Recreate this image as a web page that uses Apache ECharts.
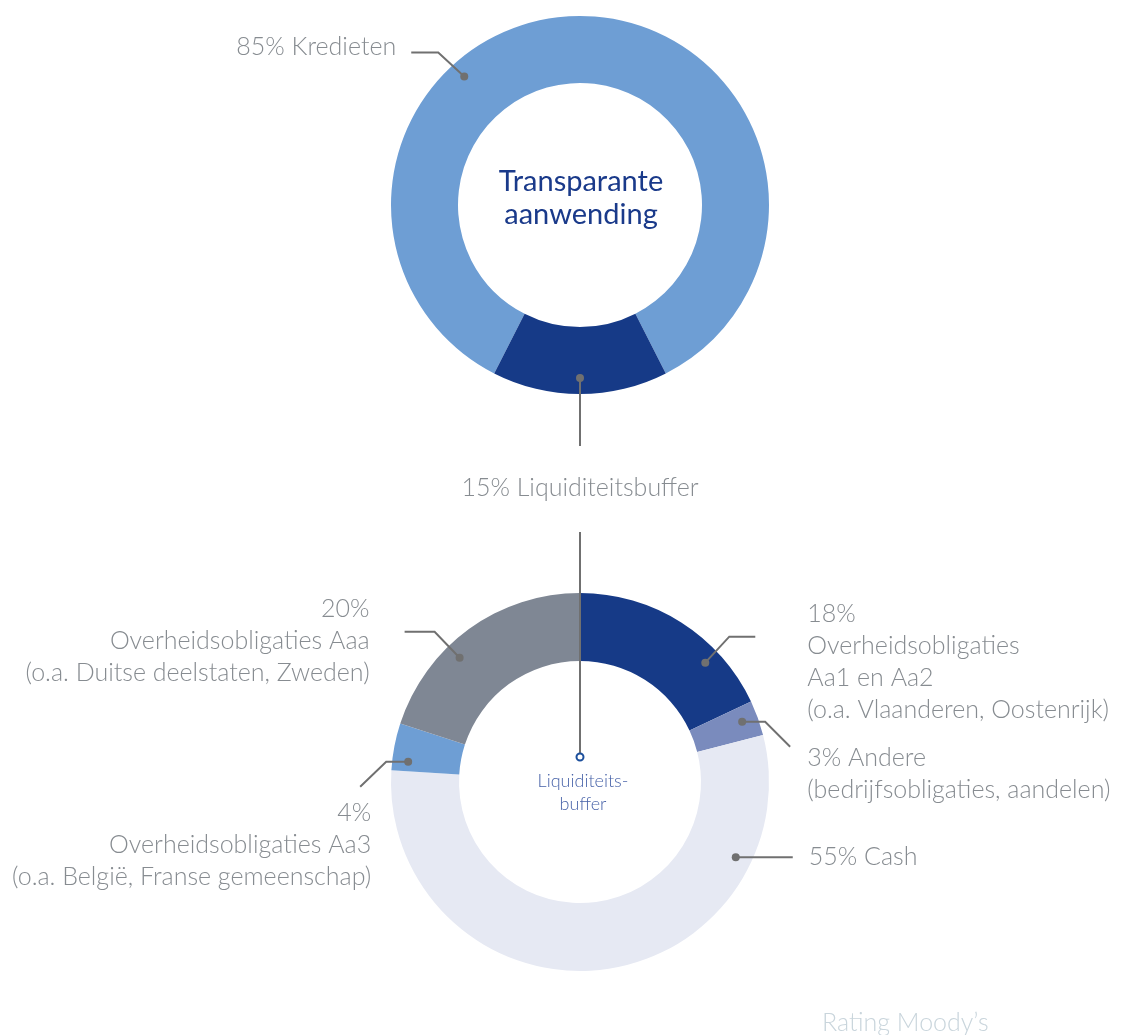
<!DOCTYPE html>
<html>
<head>
<meta charset="utf-8">
<script src="https://cdn.jsdelivr.net/npm/echarts@6/dist/echarts.min.js"></script>
<style>
  html, body { margin: 0; padding: 0; background: #fff; }
  #chart { width: 1124px; height: 1035px; }
</style>
</head>
<body>
<div id="chart"></div>
<script>
// top ring: use of funds
var topNames = ['Kredieten', 'Liquiditeitsbuffer'];
var topValues = [85, 15];
var topColors = ['#6e9ed4', '#163a87'];

// bottom ring: breakdown of the liquidity buffer
var bottomNames = ['Aa1 en Aa2', 'Andere', 'Cash', 'Aa3', 'Aaa'];
var bottomValues = [18, 3, 55, 4, 20];
var bottomColors = ['#163a87', '#7a8bbd', '#e6e9f3', '#6e9ed4', '#7f8794'];
var bottomLines = [
  ['Overheidsobligaties', 'Aa1 en Aa2', '(o.a. Vlaanderen, Oostenrijk)'],
  ['Andere', '(bedrijfsobligaties, aandelen)'],
  ['Cash'],
  ['Overheidsobligaties Aa3', '(o.a. België, Franse gemeenschap)'],
  ['Overheidsobligaties Aaa', '(o.a. Duitse deelstaten, Zweden)']
];

var FONT = '"Lato Light", Lato, "Open Sans", sans-serif';
var FONT_R = 'Lato, "Open Sans", sans-serif';
var LINE = '#707070';
var TXT = '#878c91';

var topPie = { center: [580, 205], r0: 122, r: 189 };
var botPie = { center: [580, 782], r0: 121, r: 189 };

// leader layout: angle of the dot, bends relative to the dot, text offset from line end
var topLayout = [
  { angle: 132, pts: [[-26, -24], [-53, -24]], txt: [-15, -5], align: 'right', first: true },
  { angle: 270, pts: [[0, 68]], txt: [0, 42], align: 'center', first: true }
];
var botLayout = [
  { angle: 43.6, pts: [[24, -26], [50, -26]], txt: [52, -23], align: 'left' },
  { angle: 20.4, pts: [[23, 0], [48, 25]], txt: [17, 11], align: 'left', first: true },
  { angle: -25.8, pts: [[57, 0]], txt: [16, 0], align: 'left', first: true },
  { angle: 173.3, pts: [[-22, 0], [-48, 25]], txt: [11, 26], align: 'right' },
  { angle: 134.1, pts: [[-25, -26], [-55, -26]], txt: [-35, -23], align: 'right' }
];

function labelText(value, lines, first) {
  if (first) {
    var l = lines.slice();
    l[0] = value + '% ' + l[0];
    return l.join('\n');
  }
  return [value + '%'].concat(lines).join('\n');
}

function annotations(pie, values, layout, texts) {
  var out = [];
  layout.forEach(function (lay, i) {
    var a = lay.angle * Math.PI / 180;
    var rd = 173;
    var dx = pie.center[0] + rd * Math.cos(a);
    var dy = pie.center[1] - rd * Math.sin(a);
    var pts = [[dx, dy]].concat(lay.pts.map(function (p) { return [dx + p[0], dy + p[1]]; }));
    var end = pts[pts.length - 1];
    out.push({
      type: 'polyline', z: 10,
      shape: { points: pts },
      style: { stroke: LINE, lineWidth: 2, fill: null }
    });
    out.push({
      type: 'circle', z: 11,
      shape: { cx: dx, cy: dy, r: 4 },
      style: { fill: LINE }
    });
    out.push({
      type: 'text', z: 12,
      x: end[0] + lay.txt[0],
      y: end[1] + lay.txt[1] - 16,
      style: {
        text: texts[i], fill: TXT, fontFamily: FONT, fontWeight: 300, fontSize: 25,
        lineHeight: 32, align: lay.align, verticalAlign: 'top'
      }
    });
  });
  return out;
}

var topTexts = topNames.map(function (n, i) { return labelText(topValues[i], [n], true); });
var botTexts = bottomLines.map(function (l, i) { return labelText(bottomValues[i], l, botLayout[i].first); });

var graphics = []
  .concat(annotations(topPie, topValues, topLayout, topTexts))
  .concat(annotations(botPie, bottomValues, botLayout, botTexts));

// connector between the two rings
graphics.push({
  type: 'line', z: 10,
  shape: { x1: 580, y1: 532, x2: 580, y2: 753 },
  style: { stroke: LINE, lineWidth: 2 }
});
graphics.push({
  type: 'circle', z: 11,
  shape: { cx: 580, cy: 757, r: 3.5 },
  style: { fill: '#fff', stroke: '#1c4f9c', lineWidth: 2 }
});
graphics.push({
  type: 'text', z: 12, x: 581, y: 165,
  style: {
    text: 'Transparante\naanwending', fill: '#1a3a8a', fontFamily: FONT_R, fontWeight: 400,
    fontSize: 29, lineHeight: 33, align: 'center', verticalAlign: 'top'
  }
});
graphics.push({
  type: 'text', z: 12, x: 583, y: 770,
  style: {
    text: 'Liquiditeits-\nbuffer', fill: '#4762a8', fontFamily: FONT, fontWeight: 300,
    fontSize: 18, lineHeight: 23, align: 'center', verticalAlign: 'top'
  }
});
graphics.push({
  type: 'text', z: 12, x: 822, y: 1010,
  style: {
    text: 'Rating Moody\u2019s', fill: '#c9d5dc', fontFamily: FONT, fontWeight: 300,
    fontSize: 25, align: 'left', verticalAlign: 'top'
  }
});

var myChart = echarts.init(document.getElementById('chart'));
myChart.setOption({
  animation: false,
  series: [
    {
      type: 'pie',
      silent: true,
      center: topPie.center,
      radius: [topPie.r0, topPie.r],
      startAngle: 243,
      label: { show: false },
      labelLine: { show: false },
      emphasis: { disabled: true },
      data: topNames.map(function (n, i) {
        return { name: n, value: topValues[i], itemStyle: { color: topColors[i] } };
      })
    },
    {
      type: 'pie',
      silent: true,
      center: botPie.center,
      radius: [botPie.r0, botPie.r],
      startAngle: 90,
      label: { show: false },
      labelLine: { show: false },
      emphasis: { disabled: true },
      data: bottomNames.map(function (n, i) {
        return { name: n, value: bottomValues[i], itemStyle: { color: bottomColors[i] } };
      })
    }
  ],
  graphic: graphics
});
</script>
</body>
</html>
